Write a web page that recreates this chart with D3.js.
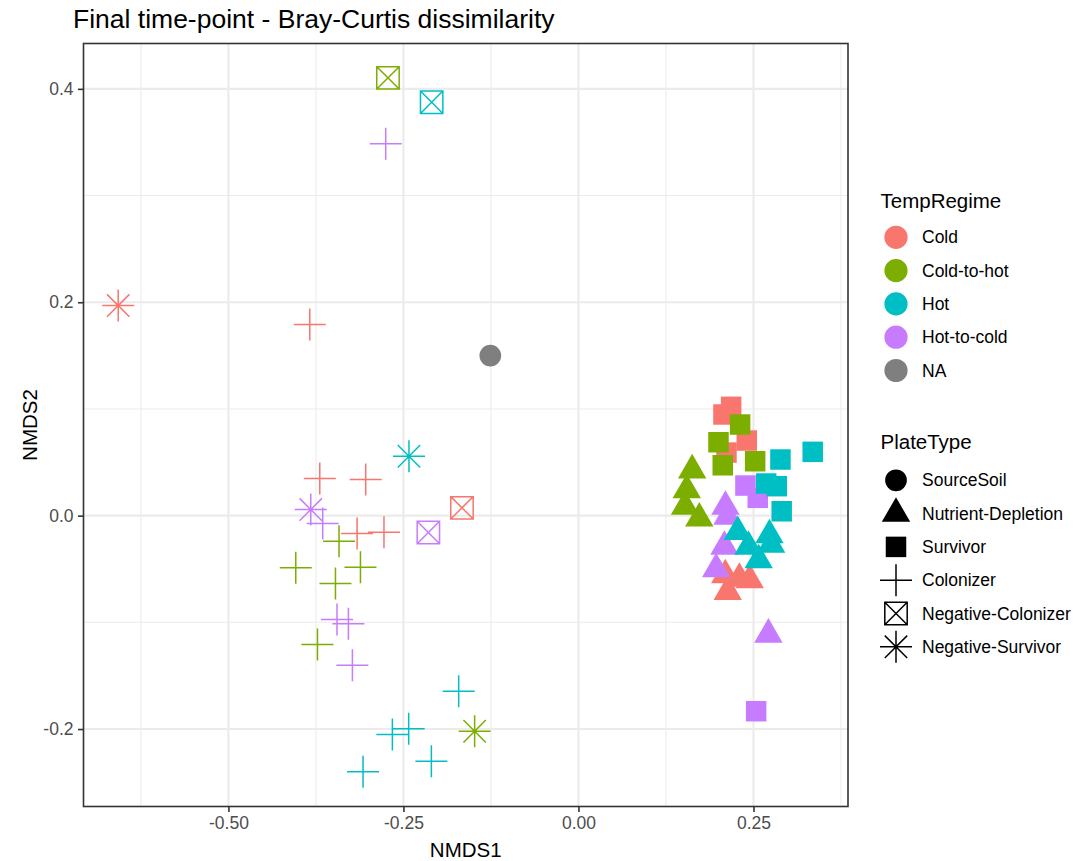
<!DOCTYPE html>
<html>
<head>
<meta charset="utf-8">
<script src="https://cdn.jsdelivr.net/npm/d3@7"></script>
<style>
  html, body { margin: 0; padding: 0; background: #ffffff; }
  svg { display: block; font-family: "Liberation Sans", Arial, Helvetica, sans-serif; }
</style>
</head>
<body>
<svg id="chart" width="1076" height="861"></svg>
<script>
// ---- Category levels and palette ----
const tempRegimes = ["Cold", "Cold-to-hot", "Hot", "Hot-to-cold", "NA"];
const regimeColors = ["#F8766D", "#7CAE00", "#00BFC4", "#C77CFF", "#7F7F7F"];
const plateTypes = ["SourceSoil", "Nutrient-Depletion", "Survivor", "Colonizer", "Negative-Colonizer", "Negative-Survivor"];

// ---- Axis ticks ----
const xMajor = [-0.5, -0.25, 0, 0.25];
const xMinor = [-0.625, -0.375, -0.125, 0.125, 0.375];
const yMajor = [-0.2, 0, 0.2, 0.4];
const yMinor = [-0.1, 0.1, 0.3];
const xLimits = [-0.707, 0.385];
const yLimits = [-0.2726, 0.4425];

// ---- NMDS scores per sample ----
const regime = [
  "Cold","Cold","Cold","Cold","Cold","Cold","Cold","Cold","Cold","Cold","Cold","Cold","Cold","Cold","Cold",
  "Hot-to-cold","Hot-to-cold","Hot-to-cold","Hot-to-cold","Hot-to-cold","Hot-to-cold","Hot-to-cold","Hot-to-cold","Hot-to-cold","Hot-to-cold","Hot-to-cold","Hot-to-cold","Hot-to-cold","Hot-to-cold","Hot-to-cold",
  "Cold-to-hot","Cold-to-hot","Cold-to-hot","Cold-to-hot","Cold-to-hot","Cold-to-hot","Cold-to-hot","Cold-to-hot","Cold-to-hot","Cold-to-hot","Cold-to-hot","Cold-to-hot","Cold-to-hot","Cold-to-hot","Cold-to-hot",
  "Hot","Hot","Hot","Hot","Hot","Hot","Hot","Hot","Hot","Hot","Hot","Hot","Hot","Hot","Hot","Hot","Hot",
  "NA"
];
const plate = [
  // Cold
  "Negative-Survivor","Colonizer","Colonizer","Colonizer","Colonizer","Colonizer","Negative-Colonizer",
  "Survivor","Survivor","Survivor","Survivor",
  "Nutrient-Depletion","Nutrient-Depletion","Nutrient-Depletion","Nutrient-Depletion",
  // Hot-to-cold
  "Negative-Colonizer","Negative-Survivor","Colonizer","Colonizer","Colonizer","Colonizer","Colonizer",
  "Survivor","Survivor","Survivor",
  "Nutrient-Depletion","Nutrient-Depletion","Nutrient-Depletion","Nutrient-Depletion","Nutrient-Depletion",
  // Cold-to-hot
  "Negative-Colonizer","Negative-Survivor","Colonizer","Colonizer","Colonizer","Colonizer","Colonizer",
  "Survivor","Survivor","Survivor","Survivor",
  "Nutrient-Depletion","Nutrient-Depletion","Nutrient-Depletion","Nutrient-Depletion",
  // Hot
  "Negative-Colonizer","Negative-Survivor","Colonizer","Colonizer","Colonizer","Colonizer","Colonizer",
  "Survivor","Survivor","Survivor","Survivor","Survivor",
  "Nutrient-Depletion","Nutrient-Depletion","Nutrient-Depletion","Nutrient-Depletion","Nutrient-Depletion",
  // NA
  "SourceSoil"
];
const nmds1 = [
  -0.6574, -0.3838, -0.3695, -0.3039, -0.3162, -0.2778, -0.1664,
  0.2181, 0.2071, 0.2404, 0.2114,
  0.2299, 0.2132, 0.2446, 0.2097,
  -0.2144, -0.3824, -0.2753, -0.3653, -0.3449, -0.3286, -0.3229,
  0.2385, 0.2561, 0.2538,
  0.2100, 0.2128, 0.2085, 0.1967, 0.2713,
  -0.2721, -0.1483, -0.4038, -0.3114, -0.3471, -0.3728, -0.3420,
  0.2309, 0.2000, 0.2061, 0.2524,
  0.1624, 0.1547, 0.1522, 0.1726,
  -0.2097, -0.2421, -0.1711, -0.2425, -0.2658, -0.2101, -0.3077,
  0.2885, 0.3346, 0.2681, 0.2832, 0.2903,
  0.2275, 0.2728, 0.2428, 0.2574, 0.2752,
  -0.1259
];
const nmds2 = [
  0.1969, 0.1791, 0.0348, 0.0338, -0.0168, -0.0156, 0.0073,
  0.1020, 0.0948, 0.0704, 0.0591,
  -0.0590, -0.0713, -0.0604, -0.0557,
  -0.0158, 0.0057, 0.3485, -0.0074, -0.0974, -0.1014, -0.1402,
  0.0282, 0.0167, -0.1833,
  0.0085, -0.0009, -0.0290, -0.0501, -0.1114,
  0.4103, -0.2021, -0.0489, -0.0484, -0.0636, -0.1208, -0.0240,
  0.0854, 0.0688, 0.0472, 0.0510,
  0.0426, 0.0240, 0.0085, -0.0026,
  0.3874, 0.0557, -0.1646, -0.1998, -0.2052, -0.2302, -0.2401,
  0.0526, 0.0598, 0.0301, 0.0276, 0.0041,
  -0.0152, -0.0183, -0.0290, -0.0416, -0.0270,
  0.1500
];

// ---- Layout ----
const panel = { left: 83.5, right: 848, top: 43.5, bottom: 806.5 };
const svg = d3.select("#chart");

const x = d3.scaleLinear().domain(xLimits).range([panel.left, panel.right]);
const y = d3.scaleLinear().domain(yLimits).range([panel.bottom, panel.top]);
const color = d3.scaleOrdinal().domain(tempRegimes).range(regimeColors);

// ---- Marker shapes (filled vs. stroked outline symbols) ----
const R = 11.2;            // base symbol radius in px
const symbolDefs = {
  "SourceSoil": { filled: true, draw(p) { p.moveTo(R, 0); p.arc(0, 0, R * 0.97, 0, 2 * Math.PI); } },
  "Nutrient-Depletion": { filled: true, draw(p) {
      const w = 14.2, h = w * Math.sqrt(3);
      p.moveTo(0, -h * 2 / 3); p.lineTo(w, h / 3); p.lineTo(-w, h / 3); p.closePath(); } },
  "Survivor": { filled: true, draw(p) { const s = 10.25; p.rect(-s, -s, 2 * s, 2 * s); } },
  "Colonizer": { filled: false, draw(p) {
      const a = 16; p.moveTo(-a, 0); p.lineTo(a, 0); p.moveTo(0, -a); p.lineTo(0, a); } },
  "Negative-Colonizer": { filled: false, draw(p) {
      const s = R; p.rect(-s, -s, 2 * s, 2 * s);
      p.moveTo(-s, -s); p.lineTo(s, s); p.moveTo(-s, s); p.lineTo(s, -s); } },
  "Negative-Survivor": { filled: false, draw(p) {
      const a = 16, d = R;
      p.moveTo(-a, 0); p.lineTo(a, 0); p.moveTo(0, -a); p.lineTo(0, a);
      p.moveTo(-d, -d); p.lineTo(d, d); p.moveTo(-d, d); p.lineTo(d, -d); } }
};
function shapePath(type) {
  const p = d3.path();
  symbolDefs[type].draw(p);
  return p.toString();
}

// ---- Panel background and grid ----
svg.append("rect")
  .attr("x", panel.left).attr("y", panel.top)
  .attr("width", panel.right - panel.left).attr("height", panel.bottom - panel.top)
  .attr("fill", "#ffffff");

const grid = svg.append("g").attr("class", "grid");
grid.selectAll("line.xminor").data(xMinor.filter(v => v > xLimits[0] && v < xLimits[1])).join("line")
  .attr("x1", d => x(d)).attr("x2", d => x(d)).attr("y1", panel.top).attr("y2", panel.bottom)
  .attr("stroke", "#EBEBEB").attr("stroke-width", 1.05);
grid.selectAll("line.yminor").data(yMinor.filter(v => v > yLimits[0] && v < yLimits[1])).join("line")
  .attr("y1", d => y(d)).attr("y2", d => y(d)).attr("x1", panel.left).attr("x2", panel.right)
  .attr("stroke", "#EBEBEB").attr("stroke-width", 1.05);
grid.selectAll("line.xmajor").data(xMajor).join("line")
  .attr("x1", d => x(d)).attr("x2", d => x(d)).attr("y1", panel.top).attr("y2", panel.bottom)
  .attr("stroke", "#EBEBEB").attr("stroke-width", 2.1);
grid.selectAll("line.ymajor").data(yMajor).join("line")
  .attr("y1", d => y(d)).attr("y2", d => y(d)).attr("x1", panel.left).attr("x2", panel.right)
  .attr("stroke", "#EBEBEB").attr("stroke-width", 2.1);

// ---- Points ----
const samples = nmds1.map((v, i) => ({ x: v, y: nmds2[i], regime: regime[i], plate: plate[i] }));
svg.append("g").attr("class", "points")
  .selectAll("path").data(samples).join("path")
  .attr("transform", d => `translate(${x(d.x)},${y(d.y)})`)
  .attr("d", d => shapePath(d.plate))
  .attr("fill", d => symbolDefs[d.plate].filled ? color(d.regime) : "none")
  .attr("stroke", d => symbolDefs[d.plate].filled ? "none" : color(d.regime))
  .attr("stroke-width", 1.5);

// ---- Panel border ----
svg.append("rect")
  .attr("x", panel.left).attr("y", panel.top)
  .attr("width", panel.right - panel.left).attr("height", panel.bottom - panel.top)
  .attr("fill", "none").attr("stroke", "#333333").attr("stroke-width", 1.6);

// ---- Axes ----
const xAxis = svg.append("g")
  .attr("transform", `translate(0,${panel.bottom})`)
  .call(d3.axisBottom(x).tickValues(xMajor).tickFormat(d => d.toFixed(2)).tickSize(5.5).tickPadding(4.5));
const yAxis = svg.append("g")
  .attr("transform", `translate(${panel.left},0)`)
  .call(d3.axisLeft(y).tickValues(yMajor).tickFormat(d => d.toFixed(1)).tickSize(5.5).tickPadding(4.5));
[xAxis, yAxis].forEach(a => {
  a.select(".domain").remove();
  a.selectAll(".tick line").attr("stroke", "#333333").attr("stroke-width", 1.6);
  a.selectAll(".tick text").attr("fill", "#4D4D4D")
    .style("font-size", "17.5px").style("font-family", "'Liberation Sans', Arial, sans-serif");
});

// ---- Titles ----
svg.append("text").attr("x", 73).attr("y", 27.5)
  .attr("font-size", 26.5).attr("fill", "#000000")
  .text("Final time-point - Bray-Curtis dissimilarity");
svg.append("text").attr("x", (panel.left + panel.right) / 2).attr("y", 857)
  .attr("text-anchor", "middle").attr("font-size", 20.5).attr("fill", "#000000")
  .text("NMDS1");
svg.append("text")
  .attr("transform", `translate(37,${(panel.top + panel.bottom) / 2}) rotate(-90)`)
  .attr("text-anchor", "middle").attr("font-size", 20.5).attr("fill", "#000000")
  .text("NMDS2");

// ---- Legends ----
const legendKeyX = 896, legendTextX = 922, rowStep = 33.3;

const colorLegend = svg.append("g");
colorLegend.append("text").attr("x", 880.5).attr("y", 207.5)
  .attr("font-size", 20.5).attr("fill", "#000000").text("TempRegime");
const cRows = colorLegend.selectAll("g.row").data(tempRegimes).join("g")
  .attr("transform", (d, i) => `translate(0,${237.3 + i * rowStep})`);
cRows.append("circle").attr("cx", legendKeyX).attr("cy", 0).attr("r", 11.6)
  .attr("fill", d => color(d));
cRows.append("text").attr("x", legendTextX).attr("y", 0).attr("dy", "0.35em")
  .attr("font-size", 17.5).attr("fill", "#000000").text(d => d);

const shapeLegend = svg.append("g");
shapeLegend.append("text").attr("x", 880.5).attr("y", 449)
  .attr("font-size", 20.5).attr("fill", "#000000").text("PlateType");
const sRows = shapeLegend.selectAll("g.row").data(plateTypes).join("g")
  .attr("transform", (d, i) => `translate(0,${480.3 + i * rowStep})`);
sRows.append("path")
  .attr("transform", `translate(${legendKeyX},0)`)
  .attr("d", d => shapePath(d))
  .attr("fill", d => symbolDefs[d].filled ? "#000000" : "none")
  .attr("stroke", d => symbolDefs[d].filled ? "none" : "#000000")
  .attr("stroke-width", 1.5);
sRows.append("text").attr("x", legendTextX).attr("y", 0).attr("dy", "0.35em")
  .attr("font-size", 17.5).attr("fill", "#000000").text(d => d);
</script>
</body>
</html>
